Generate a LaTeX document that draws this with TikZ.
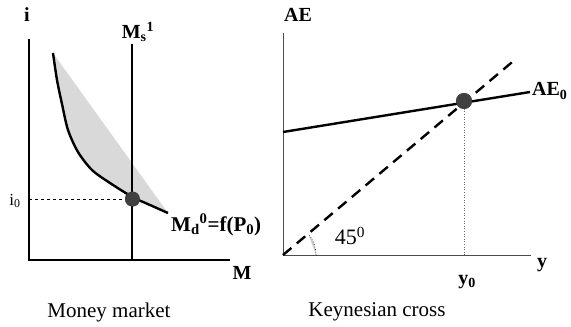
\documentclass[tikz,border=0pt]{standalone}
\usepackage{fontspec}
\setmainfont{Liberation Serif}
\usetikzlibrary{calc}
\begin{document}
\begin{tikzpicture}[x=1pt,y=-1pt,
  axisL/.style={line width=1.8pt, black},
  axisR/.style={line width=1pt, black!70},
  curve/.style={line width=2.4pt, black},
  lab/.style={font=\fontsize{20}{24}\selectfont\bfseries, inner sep=0pt},
  smalllab/.style={font=\fontsize{17}{20}\selectfont, inner sep=0pt},
  captext/.style={font=\fontsize{21}{25}\selectfont, inner sep=0pt},
  eqdot/.style={circle, fill=black!75, minimum size=15pt, inner sep=0pt},
]
\useasboundingbox (0,0) rectangle (571,327);

% ---------- Left panel: money market ----------
\coordinate (Lo) at (29,260);
\coordinate (Ltop) at (29,39);
\coordinate (Lend) at (230,260);
\coordinate (MsTop) at (132,44);
\coordinate (MsBot) at (132,260);
\node[eqdot] (E1) at (132.5,199) {};

\fill[black!15] plot[smooth] coordinates {(53,53) (57,80) (62,104) (68,130) (78,152) (92,170) (110,183) (132.5,197) (150,205) (168,213)} -- cycle;
\draw[dashed, line width=0.5pt] (Lo |- E1.center) -- (E1.center);
\draw[axisL] (Ltop) -- (Lo) -- (Lend);
\draw[curve] (MsTop) -- (MsBot);
\draw[curve] plot[smooth] coordinates {(53,53) (57,80) (62,104) (68,130) (78,152) (92,170) (110,183) (132.5,197) (150,205) (168,213)};
\node[eqdot] at (E1) {};

\node[lab] (ilab) at (27,15) {i};
\node[lab] (mslab) at (138,32) {M\textsubscript{s}\textsuperscript{1}};
\node[lab, font=\fontsize{21}{25}\selectfont\bfseries, anchor=west] (mdlab) at (171,225) {M\textsubscript{d}\textsuperscript{0}=f(P\textsubscript{0})};
\node[lab] (mlab) at (242,273) {M};
\node[smalllab] (i0lab) at (15,201) {i\textsubscript{0}};
\node[captext] (cap1) at (109,312) {Money market};

% ---------- Right panel: Keynesian cross ----------
\coordinate (Ro) at (283,255);
\coordinate (Rtop) at (283,33);
\coordinate (Rend) at (531,255);
\coordinate (AEs) at (283,132);
\coordinate (AEe) at (530,92);
\coordinate (D45) at (517,58);
\node[eqdot, minimum size=16pt] (E2) at (464,101) {};

\fill[black!20] ($(Ro)+(33,0)$) arc[start angle=0, end angle=-40, radius=33] -- cycle;
\draw[dotted, line width=0.6pt] ($(Ro)+(33,0)$) arc[start angle=0, end angle=-40, radius=33];
\draw[dotted, black!60, line width=0.6pt] (E2.center) -- (E2.center |- Ro);
\draw[axisR] (Rtop) -- (Ro) -- (Rend);
\draw[curve] (AEs) -- (AEe);
\draw[curve, dash pattern=on 11pt off 7pt] (Ro) -- (D45);
\node[eqdot, minimum size=16pt] at (E2) {};

\node[lab] (aelab) at (298,15) {AE};
\node[lab, anchor=west] (ae0lab) at (532,91) {AE\textsubscript{0}};
\node[lab] (ylab) at (542,265) {y};
\node[lab] (y0lab) at (467,282) {y\textsubscript{0}};
\node[font=\fontsize{22}{26}\selectfont, inner sep=0pt] (anglab) at (350,236) {45\textsuperscript{0}};
\node[captext] (cap2) at (377,312) {Keynesian cross};
\end{tikzpicture}
\end{document}
